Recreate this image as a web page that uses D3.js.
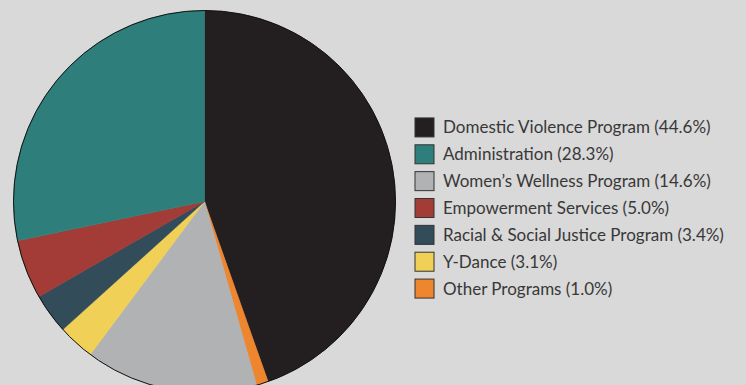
<!DOCTYPE html>
<html><head><meta charset="utf-8">
<script src="https://cdn.jsdelivr.net/npm/d3@7"></script>
<style>html,body{margin:0;padding:0;background:#d9d9d9;overflow:hidden}</style>
</head><body>
<svg id="c" width="746" height="385"></svg>
<script>
const categories = ["Domestic Violence Program","Other Programs","Women\u2019s Wellness Program","Y-Dance","Racial & Social Justice Program","Empowerment Services","Administration"];
const values = [44.6, 1.0, 14.6, 3.1, 3.4, 5.0, 28.3];
const colors = ["#231f20","#ee852f","#b1b2b3","#f0d057","#324c5a","#a33b36","#2e7f7b"];
const legendOrder = ["Domestic Violence Program","Administration","Women\u2019s Wellness Program","Empowerment Services","Racial & Social Justice Program","Y-Dance","Other Programs"];

const svg = d3.select("#c");
svg.append("rect").attr("width",746).attr("height",385).attr("fill","#d9d9d9");
const cx = 204.5, cy = 201.5, r = 191;
const color = d3.scaleOrdinal().domain(categories).range(colors);
const pie = d3.pie().sort(null).value(d=>d.v);
const data = categories.map((c,i)=>({c, v: values[i]}));
const arc = d3.arc().innerRadius(0).outerRadius(r);
const g = svg.append("g").attr("transform",`translate(${cx},${cy})`);
g.selectAll("path").data(pie(data)).join("path")
  .attr("d",arc).attr("fill",d=>color(d.data.c))
  .attr("stroke",d=>color(d.data.c)).attr("stroke-width",0.5);
g.append("circle").attr("r",r).attr("fill","none").attr("stroke","#111").attr("stroke-width",1);

const y = d3.scaleBand().domain(legendOrder).range([114,302]).paddingInner(0);
const lg = svg.append("g");
const items = lg.selectAll("g").data(legendOrder).join("g")
  .attr("transform",d=>`translate(415,${y(d)+y.bandwidth()/2})`);
items.append("rect").attr("x",0).attr("y",-9.5).attr("width",19).attr("height",19)
  .attr("fill",d=>color(d)).attr("stroke","#333").attr("stroke-width",1);
items.append("text").attr("x",28).attr("y",0).attr("dy","0.35em")
  .attr("font-family","Lato, 'Open Sans', sans-serif").attr("font-size",17)
  .attr("fill","#383838")
  .text(d=>`${d} (${values[categories.indexOf(d)].toFixed(1)}%)`);
</script>
</body></html>
